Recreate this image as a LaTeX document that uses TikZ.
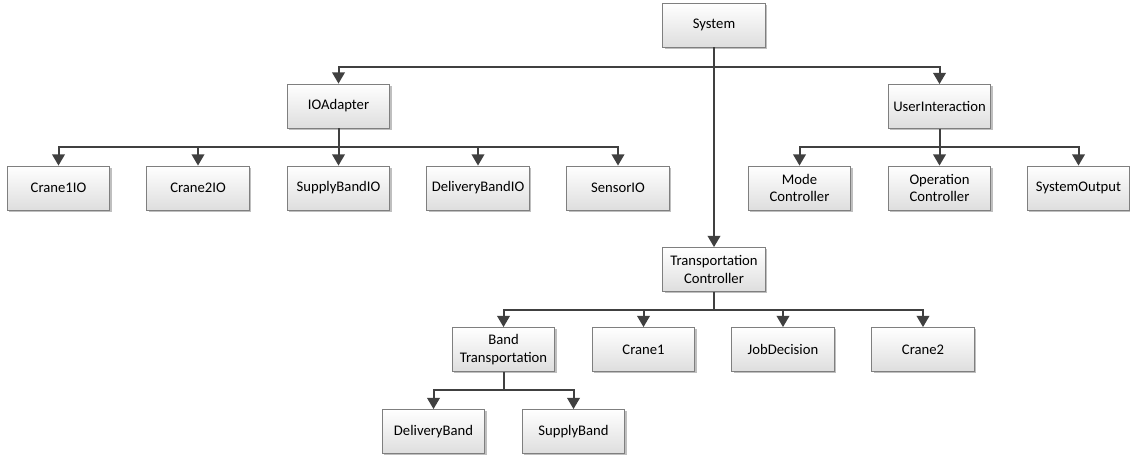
\documentclass[tikz,border=0pt]{standalone}
\usepackage{fontspec}
\setmainfont{Carlito}
\usetikzlibrary{arrows.meta,shadows}
\definecolor{linec}{HTML}{404040}
\definecolor{boxedge}{HTML}{7F7F7F}
\tikzset{
  box/.style={draw=boxedge, line width=0.6pt, top color=white, bottom color=black!13,
    minimum width=77pt, minimum height=33pt, inner sep=1pt, align=center,
    font=\fontsize{11}{13}\selectfont,
    drop shadow={shadow xshift=1.4pt, shadow yshift=-1.4pt, opacity=0.25, fill=black}},
  arr/.style={draw=linec, line width=1.5pt, -{Triangle[width=9.5pt,length=8.5pt]}}
}
\begin{document}
\begin{tikzpicture}[x=0.75pt,y=-0.75pt]
\useasboundingbox (0,0) rectangle (1130,456);
% nodes
\node[box] (sys) at (714,25) {System};
\node[box] (io) at (338.5,106) {IOAdapter};
\node[box] (ui) at (939.5,106.5) {UserInteraction};
\node[box] (c1io) at (58.5,188) {Crane1IO};
\node[box] (c2io) at (198,188) {Crane2IO};
\node[box] (sbio) at (338.5,188) {SupplyBandIO};
\node[box] (dbio) at (478,188) {DeliveryBandIO};
\node[box] (sio) at (618,188) {SensorIO};
\node[box] (mc) at (799.5,188) {Mode\\Controller};
\node[box] (oc) at (939.5,188) {Operation\\Controller};
\node[box] (so) at (1078.5,188) {SystemOutput};
\node[box] (tc) at (714,269.5) {Transportation\\Controller};
\node[box] (bt) at (503.5,349.5) {Band\\Transportation};
\node[box] (cr1) at (643.5,349.5) {Crane1};
\node[box] (jd) at (783,349.5) {JobDecision};
\node[box] (cr2) at (923,349.5) {Crane2};
\node[box] (db) at (433.5,431.5) {DeliveryBand};
\node[box] (sb) at (573.5,431.5) {SupplyBand};
% bar levels
\coordinate (l0) at (0,67);
\coordinate (l1) at (0,147);
\coordinate (l2) at (0,309.5);
\coordinate (l3) at (0,390);
% connectors
\draw[arr] (sys) -- (sys |- l0) -| (io);
\draw[arr] (sys) -- (sys |- l0) -| (ui);
\draw[arr] (sys) -- (tc);
\foreach \c in {c1io,c2io,sbio,dbio,sio}
  \draw[arr] (io) -- (io |- l1) -| (\c);
\foreach \c in {mc,oc,so}
  \draw[arr] (ui) -- (ui |- l1) -| (\c);
\foreach \c in {bt,cr1,jd,cr2}
  \draw[arr] (tc) -- (tc |- l2) -| (\c);
\foreach \c in {db,sb}
  \draw[arr] (bt) -- (bt |- l3) -| (\c);
\end{tikzpicture}
\end{document}
